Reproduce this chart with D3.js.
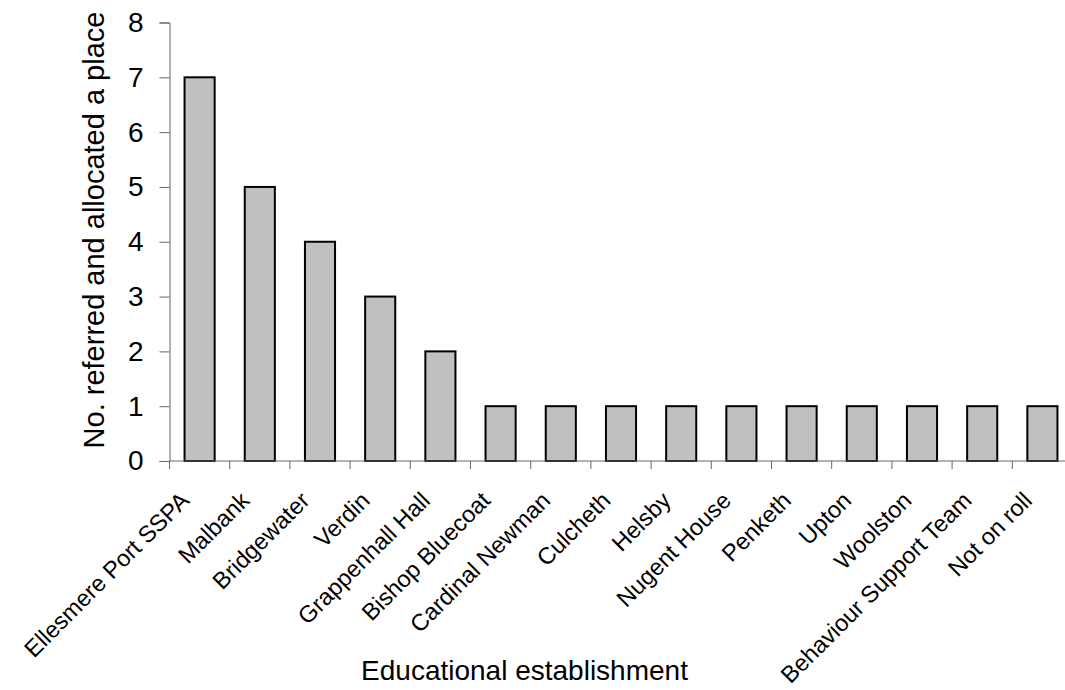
<!DOCTYPE html>
<html><head><meta charset="utf-8">
<script src="https://cdnjs.cloudflare.com/ajax/libs/d3/7.8.5/d3.min.js"></script>
<style>html,body{margin:0;padding:0;background:#fff;overflow:hidden}</style>
</head><body>
<script>
const categories = ["Ellesmere Port SSPA","Malbank","Bridgewater","Verdin","Grappenhall Hall","Bishop Bluecoat","Cardinal Newman","Culcheth","Helsby","Nugent House","Penketh","Upton","Woolston","Behaviour Support Team","Not on roll"];
const values = [7,5,4,3,2,1,1,1,1,1,1,1,1,1,1];
const yTicks = [0,1,2,3,4,5,6,7,8];
const xTitle = "Educational establishment";
const yTitle = "No. referred and allocated a place";

const W = 1065, H = 690;
const svg = d3.select("body").append("svg").attr("width", W).attr("height", H)
  .style("font-family", "'Liberation Sans', Arial, sans-serif");

const x = d3.scaleBand().domain(categories).range([169.5, 1072.5]).paddingInner(0.5).paddingOuter(0.25);
const y = d3.scaleLinear().domain([0, 8]).range([461, 22.5]);
const axisColor = "#666";

// bars
svg.append("g").selectAll("rect").data(values).join("rect")
  .attr("x", (d, i) => x(categories[i]))
  .attr("width", x.bandwidth())
  .attr("y", d => y(d))
  .attr("height", d => y(0) - y(d))
  .attr("fill", "#c0c0c0")
  .attr("stroke", "#000")
  .attr("stroke-width", 2);

// y axis
const yAxis = svg.append("g").attr("transform", "translate(169.5,0)")
  .call(d3.axisLeft(y).tickValues(yTicks).tickSize(10).tickPadding(16).tickFormat(d3.format("d")));
yAxis.select(".domain").attr("stroke", axisColor);
yAxis.selectAll(".tick line").attr("stroke", axisColor);
yAxis.selectAll(".tick text").attr("font-size", 28).attr("fill", "#000")
  .attr("font-family", "'Liberation Sans', Arial, sans-serif");

// x axis line and ticks at band boundaries
const step = x.step();
const x0 = x.range()[0];
svg.append("line").attr("x1", x0).attr("x2", x.range()[1]).attr("y1", 461).attr("y2", 461)
  .attr("stroke", axisColor).attr("stroke-width", 1);
svg.append("g").selectAll("line").data(d3.range(categories.length + 1)).join("line")
  .attr("x1", i => x0 + i * step).attr("x2", i => x0 + i * step)
  .attr("y1", 461).attr("y2", 469)
  .attr("stroke", axisColor).attr("stroke-width", 1);

// x tick labels
svg.append("g").selectAll("text").data(categories).join("text")
  .attr("transform", d => `translate(${x(d) + x.bandwidth() / 2 - 9},502) rotate(-45)`)
  .attr("text-anchor", "end")
  .attr("font-size", 23.5)
  .attr("fill", "#000")
  .text(d => d);

// titles
svg.append("text").attr("x", 524.5).attr("y", 680).attr("text-anchor", "middle")
  .attr("font-size", 28).attr("fill", "#000").text(xTitle);
svg.append("text").attr("transform", "translate(103.5,230) rotate(-90)").attr("text-anchor", "middle")
  .attr("font-size", 29).attr("fill", "#000").text(yTitle);
</script>
</body></html>
